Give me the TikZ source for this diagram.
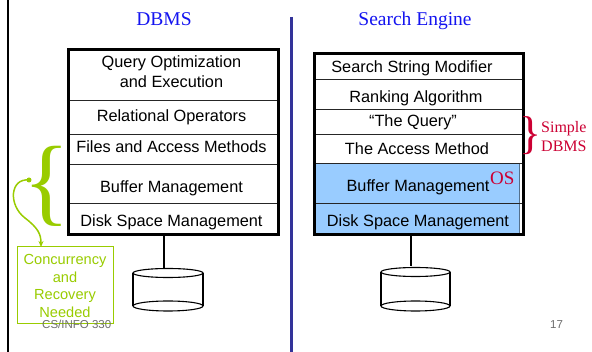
\documentclass[tikz,border=0pt]{standalone}
\usepackage{fontspec}
\setmainfont{Liberation Serif}
\setsansfont{Liberation Sans}
\usetikzlibrary{arrows.meta}

\definecolor{ttlblue}{RGB}{20,20,240}
\definecolor{divblue}{RGB}{51,51,153}
\definecolor{osred}{RGB}{204,0,51}
\definecolor{lime}{RGB}{153,204,0}
\definecolor{fillblue}{RGB}{153,204,255}
\definecolor{footgray}{RGB}{110,110,110}

\tikzset{
  title/.style={text=ttlblue, font=\fontsize{19.5}{22}\selectfont, anchor=base, inner sep=0pt},
  layer/.style={font=\sffamily\fontsize{16.3}{19}\selectfont, anchor=base, inner sep=0pt},
  frame/.style={draw=black, line width=2.6pt},
  divider/.style={draw=black!85, line width=0.9pt},
  disk/.style={draw=black, line width=1.1pt},
  redtxt/.style={text=osred, font=\fontsize{16}{19}\selectfont, anchor=base west, inner sep=0pt},
  foot/.style={text=footgray, font=\sffamily\fontsize{11.5}{13}\selectfont, anchor=base west, inner sep=0pt}
}

\begin{document}
\begin{tikzpicture}[x=1pt,y=-1pt]
\useasboundingbox (0,0) rectangle (592,352);
\fill[white] (0,0) rectangle (592,352);

% slide edge and the separating rule
\draw[line width=2pt] (8,0) -- (8,352);
\draw[divblue, line width=3pt] (291,17) -- (291,352);

% column headings
\node[title] (tdbms) at (164,26) {DBMS};
\node[title] (tse) at (415,26) {Search Engine};

% ---------- DBMS layer stack ----------
\foreach \yy in {100,134,164,203} \draw[divider] (67,\yy) -- (277,\yy);
\node[frame, anchor=north west, minimum width=210pt, minimum height=185pt, inner sep=0pt] (L) at (67,48) {};

\node[layer] (l1a) at (171.5,68) {Query Optimization};
\node[layer] (l1b) at (171.5,88) {and Execution};
\node[layer] (l2) at (171.5,122) {Relational Operators};
\node[layer] (l3) at (171.5,153) {Files and Access Methods};
\node[layer] (l4) at (171.5,193) {Buffer Management};
\node[layer] (l5) at (171.5,227) {Disk Space Management};

% ---------- Search engine layer stack ----------
\fill[fillblue] (313,163) rectangle (520,233);
\draw[fillblue!55!black, line width=1pt] (519,163) -- (519,233);
\foreach \yy in {79,109,134,163,203} \draw[divider] (313,\yy) -- (522,\yy);
\node[frame, anchor=north west, minimum width=209pt, minimum height=181pt, inner sep=0pt] (R) at (313,52) {};

\node[layer] (r1) at (412,73) {Search String Modifier};
\node[layer] (r2) at (416,103) {Ranking Algorithm};
\node[layer] (r3) at (413,127) {``The Query''};
\node[layer] (r4) at (417,155) {The Access Method};
\node[layer] (r5) at (418,192) {Buffer Management};
\node[layer] (r6) at (418,227) {Disk Space Management};

\node[text=osred, font=\fontsize{19}{22}\selectfont, anchor=base west, inner sep=0pt] (os) at (490,185) {OS};

% Simple DBMS bracket
\node[text=osred, font=\fontsize{46}{46}\selectfont, inner sep=0pt] (rbrace) at (531,136) {\makebox[0pt]{\}}};
\node[redtxt] (simple) at (541,133) {Simple};
\node[redtxt] (sdbms) at (541,152) {DBMS};

% ---------- disks ----------
\coordinate (d1) at (164,269);
\coordinate (d2) at (411,266);
\draw[line width=1.1pt] (L.south -| d1) -- (d1);
\draw[line width=1.1pt] (R.south -| d2) -- (d2);

\draw[disk] (133,273) -- (133,306) (203,273) -- (203,306);
\draw[disk, fill=white] (168,273) ellipse [x radius=35pt, y radius=4.5pt];
\draw[disk] (168,306) ellipse [x radius=35pt, y radius=5pt];

\draw[disk] (381,272) -- (381,306) (450,272) -- (450,306);
\draw[disk, fill=white] (415.5,272) ellipse [x radius=34.5pt, y radius=4.5pt];
\draw[disk] (415.5,306) ellipse [x radius=34.5pt, y radius=5pt];

% ---------- concurrency note ----------
\node[text=lime, font=\fontsize{97}{97}\selectfont, inner sep=0pt] (gbrace) at (47,186) {\{};
\node[fill=lime, circle, inner sep=0pt, minimum size=5pt] (gdot) at (29,180) {};
\node[draw=lime, line width=1pt, minimum width=96pt, minimum height=77pt, inner sep=0pt] (cr) at (65,285.5) {};
\node[text=lime, font=\sffamily\fontsize{14.6}{17.7}\selectfont, align=center, inner sep=0pt] (crtext) at (65,286) {Concurrency\\and\\Recovery\\Needed};
\coordinate (tip) at (41,247);
\draw[lime, line width=1.5pt, -{Stealth[length=6pt,width=5pt]}]
  (gdot.center) .. controls (10,178) and (8,205) .. (25,218)
  .. controls (38,228) and (41,234) .. (tip);

% footer
\node[foot] (course) at (42,329) {CS/INFO 330};
\node[foot] (page) at (550,329) {17};
\end{tikzpicture}
\end{document}
